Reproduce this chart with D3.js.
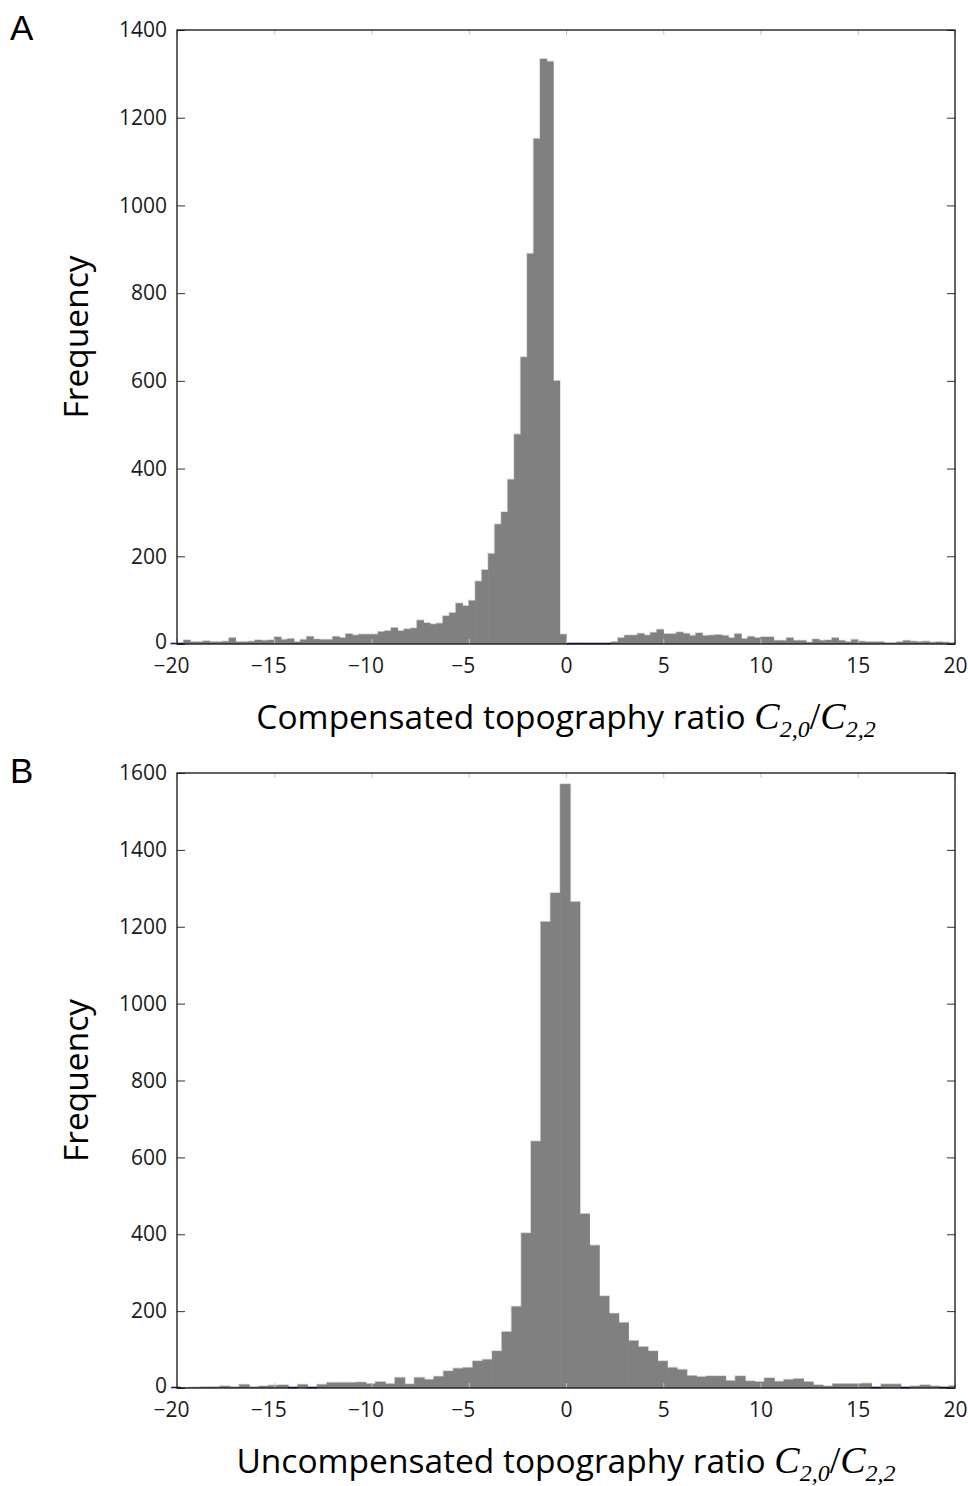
<!DOCTYPE html>
<html>
<head>
<meta charset="utf-8">
<script src="https://cdn.jsdelivr.net/npm/d3@7"></script>
<style>
  body { margin: 0; background: #fff; }
  svg { display: block; }
</style>
</head>
<body>
<svg id="chart" width="968" height="1486"></svg>
<script>

// panel A: compensated, bins of 1/3 starting at -20 1/3
const compStart = -20 - 1/3
const compWidth = 1/3
const compCounts = [0,
  0, 9, 5, 5, 7, 5, 5, 6, 14, 5,
  5, 6, 9, 8, 9, 16, 10, 12, 5, 10,
  17, 11, 10, 10, 17, 14, 23, 20, 22, 22,
  22, 28, 30, 37, 30, 34, 36, 54, 48, 45,
  47, 64, 71, 93, 87, 99, 143, 169, 206, 273,
  301, 375, 478, 654, 890, 1152, 1334, 1328, 600, 22,
  0, 0, 0, 0, 0, 0, 0,
  5, 14, 20, 20, 24, 20, 26, 33, 23, 23,
  27, 24, 19, 25, 19, 20, 21, 19, 14, 23,
  12, 17, 14, 16, 16, 8, 8, 14, 8, 8,
  4, 11, 8, 9, 14, 8, 5, 10, 6, 5,
  5, 5, 3, 3, 5, 8, 6, 5, 6, 4, 5, 4, 3]
const compYTicks = [0, 200, 400, 600, 800, 1000, 1200, 1400]

// panel B: uncompensated, bins of 0.5
const uncompStart = -20.3
const uncompWidth = 0.5
const uncompCounts = [
  0, 1, 2, 3, 3, 5, 3, 9, 3, 5,
  7, 8, 0, 9, 0, 9, 14, 14, 14, 15,
  11, 16, 11, 27, 10, 27, 22, 30, 44, 51,
  53, 70, 74, 96, 146, 212, 403, 642, 1213, 1288,
  1571, 1265, 453, 371, 239, 194, 170, 123, 107, 96,
  70, 53, 48, 32, 29, 31, 31, 19, 31, 18,
  16, 26, 17, 22, 24, 16, 8, 5, 11, 11,
  11, 12, 0, 10, 10, 0, 5, 8, 5, 0, 6]
const uncompYTicks = [0, 200, 400, 600, 800, 1000, 1200, 1400, 1600]

const xTicks = [-20, -15, -10, -5, 0, 5, 10, 15, 20]

const svg = d3.select("#chart")
const sans = "'Open Sans', 'Noto Sans', sans-serif"
const serif = "'Liberation Serif', 'DejaVu Serif', serif"

function make_bins(start, width, counts) {
  return counts.map((c, i) => ({x0: start + i*width, x1: start + (i+1)*width, n: c}))
}

function draw_panel(opts) {
  let {id, top, bottom, yMax, yTicks, bins, letter, title} = opts
  let left = 177, right = 955

  let x = d3.scaleLinear().domain([-20, 20]).range([left, right])
  let y = d3.scaleLinear().domain([0, yMax]).range([bottom, top])

  let g = svg.append("g")

  svg.append("clipPath").attr("id", "clip" + id)
    .append("rect")
    .attr("x", left).attr("y", top)
    .attr("width", right - left).attr("height", bottom - top)

  let plot = g.append("g").attr("clip-path", `url(#clip${id})`)

  // light outline behind the bars
  let steps = []
  bins.forEach(b => { steps.push([b.x0, b.n]); steps.push([b.x1, b.n]) })
  plot.append("path")
    .attr("d", d3.line().x(d => x(d[0])).y(d => y(d[1]))(steps))
    .attr("fill", "none")
    .attr("stroke", "#d6d6d6")
    .attr("stroke-width", 1.6)

  plot.selectAll("rect.bar")
    .data(bins.filter(b => b.n > 0)).enter()
    .append("rect")
    .attr("class", "bar")
    .attr("x", d => x(d.x0))
    .attr("width", d => x(d.x1) - x(d.x0) + 0.6)
    .attr("y", d => y(d.n))
    .attr("height", d => y(0) - y(d.n))
    .attr("fill", "#808080")

  // empty bins show as a blue line on the baseline
  g.selectAll("line.empty")
    .data(bins.filter(b => b.n == 0)).enter()
    .append("line")
    .attr("x1", d => x(d.x0)).attr("x2", d => x(d.x1))
    .attr("y1", y(0) - 0.5).attr("y2", y(0) - 0.5)
    .attr("stroke", "#10108a")
    .attr("stroke-width", 1.6)

  // axes, ticks point inward
  let xb = d3.axisBottom(x).tickValues(xTicks).tickSize(-5).tickPadding(14)
  let xt = d3.axisTop(x).tickValues(xTicks).tickSize(-5).tickFormat("")
  let yl = d3.axisLeft(y).tickValues(yTicks).tickSize(-8).tickPadding(10).tickFormat(d3.format("d"))
  let yr = d3.axisRight(y).tickValues(yTicks).tickSize(-8).tickFormat("")

  let ax = [
    g.append("g").attr("transform", `translate(0,${bottom})`).call(xb),
    g.append("g").attr("transform", `translate(0,${top})`).call(xt),
    g.append("g").attr("transform", `translate(${left},0)`).call(yl),
    g.append("g").attr("transform", `translate(${right},0)`).call(yr)
  ]
  ax.forEach(a => {
    a.select(".domain").remove()
    a.selectAll("text")
      .attr("font-family", sans)
      .attr("font-size", 21)
      .attr("fill", "#1a1a1a")
  })
  // digits sit on the tick, the minus hangs to the left
  ax[0].selectAll("text").attr("dx", d => d < 0 ? -6 : 0)
  ax[0].selectAll("line").attr("stroke", "#c4c4c4")
  ax[1].selectAll("line").attr("stroke", "#c4c4c4")
  ax[2].selectAll("line").attr("stroke", "#333")
  ax[3].selectAll("line").attr("stroke", "#333")
  // zero label sits a little higher, clear of the x labels
  ax[2].selectAll("text").filter(d => d == 0).attr("dy", "0.22em")

  g.append("rect")
    .attr("x", left).attr("y", top)
    .attr("width", right - left).attr("height", bottom - top)
    .attr("fill", "none")
    .attr("stroke", "#111")
    .attr("stroke-width", 1.3)

  // labels
  g.append("text")
    .attr("x", 10).attr("y", top + 10)
    .attr("font-family", "'Liberation Sans', Arial, sans-serif")
    .attr("font-size", 35)
    .text(letter)

  g.append("text")
    .attr("transform", `translate(88,${(top + bottom)/2}) rotate(-90)`)
    .attr("text-anchor", "middle")
    .attr("font-family", sans)
    .attr("font-size", 33.5)
    .text("Frequency")

  let t = g.append("text")
    .attr("x", (left + right)/2)
    .attr("y", bottom + 85)
    .attr("text-anchor", "middle")
    .attr("font-family", sans)
    .attr("font-size", 33.5)
  t.append("tspan").text(title + " ")
  t.append("tspan").attr("font-family", serif).attr("font-style", "italic").attr("font-size", 38).text("C")
  t.append("tspan").attr("font-family", serif).attr("font-style", "italic").attr("font-size", 24).attr("dy", 8).text("2,0")
  t.append("tspan").attr("font-family", serif).attr("font-size", 38).attr("dy", -8).text("/")
  t.append("tspan").attr("font-family", serif).attr("font-style", "italic").attr("font-size", 38).text("C")
  t.append("tspan").attr("font-family", serif).attr("font-style", "italic").attr("font-size", 24).attr("dy", 8).text("2,2")
}

draw_panel({
  id: "A", top: 30, bottom: 644, yMax: 1400, yTicks: compYTicks,
  bins: make_bins(compStart, compWidth, compCounts),
  letter: "A", title: "Compensated topography ratio"
})

draw_panel({
  id: "B", top: 773, bottom: 1388, yMax: 1600, yTicks: uncompYTicks,
  bins: make_bins(uncompStart, uncompWidth, uncompCounts),
  letter: "B", title: "Uncompensated topography ratio"
})
</script>
</body>
</html>
